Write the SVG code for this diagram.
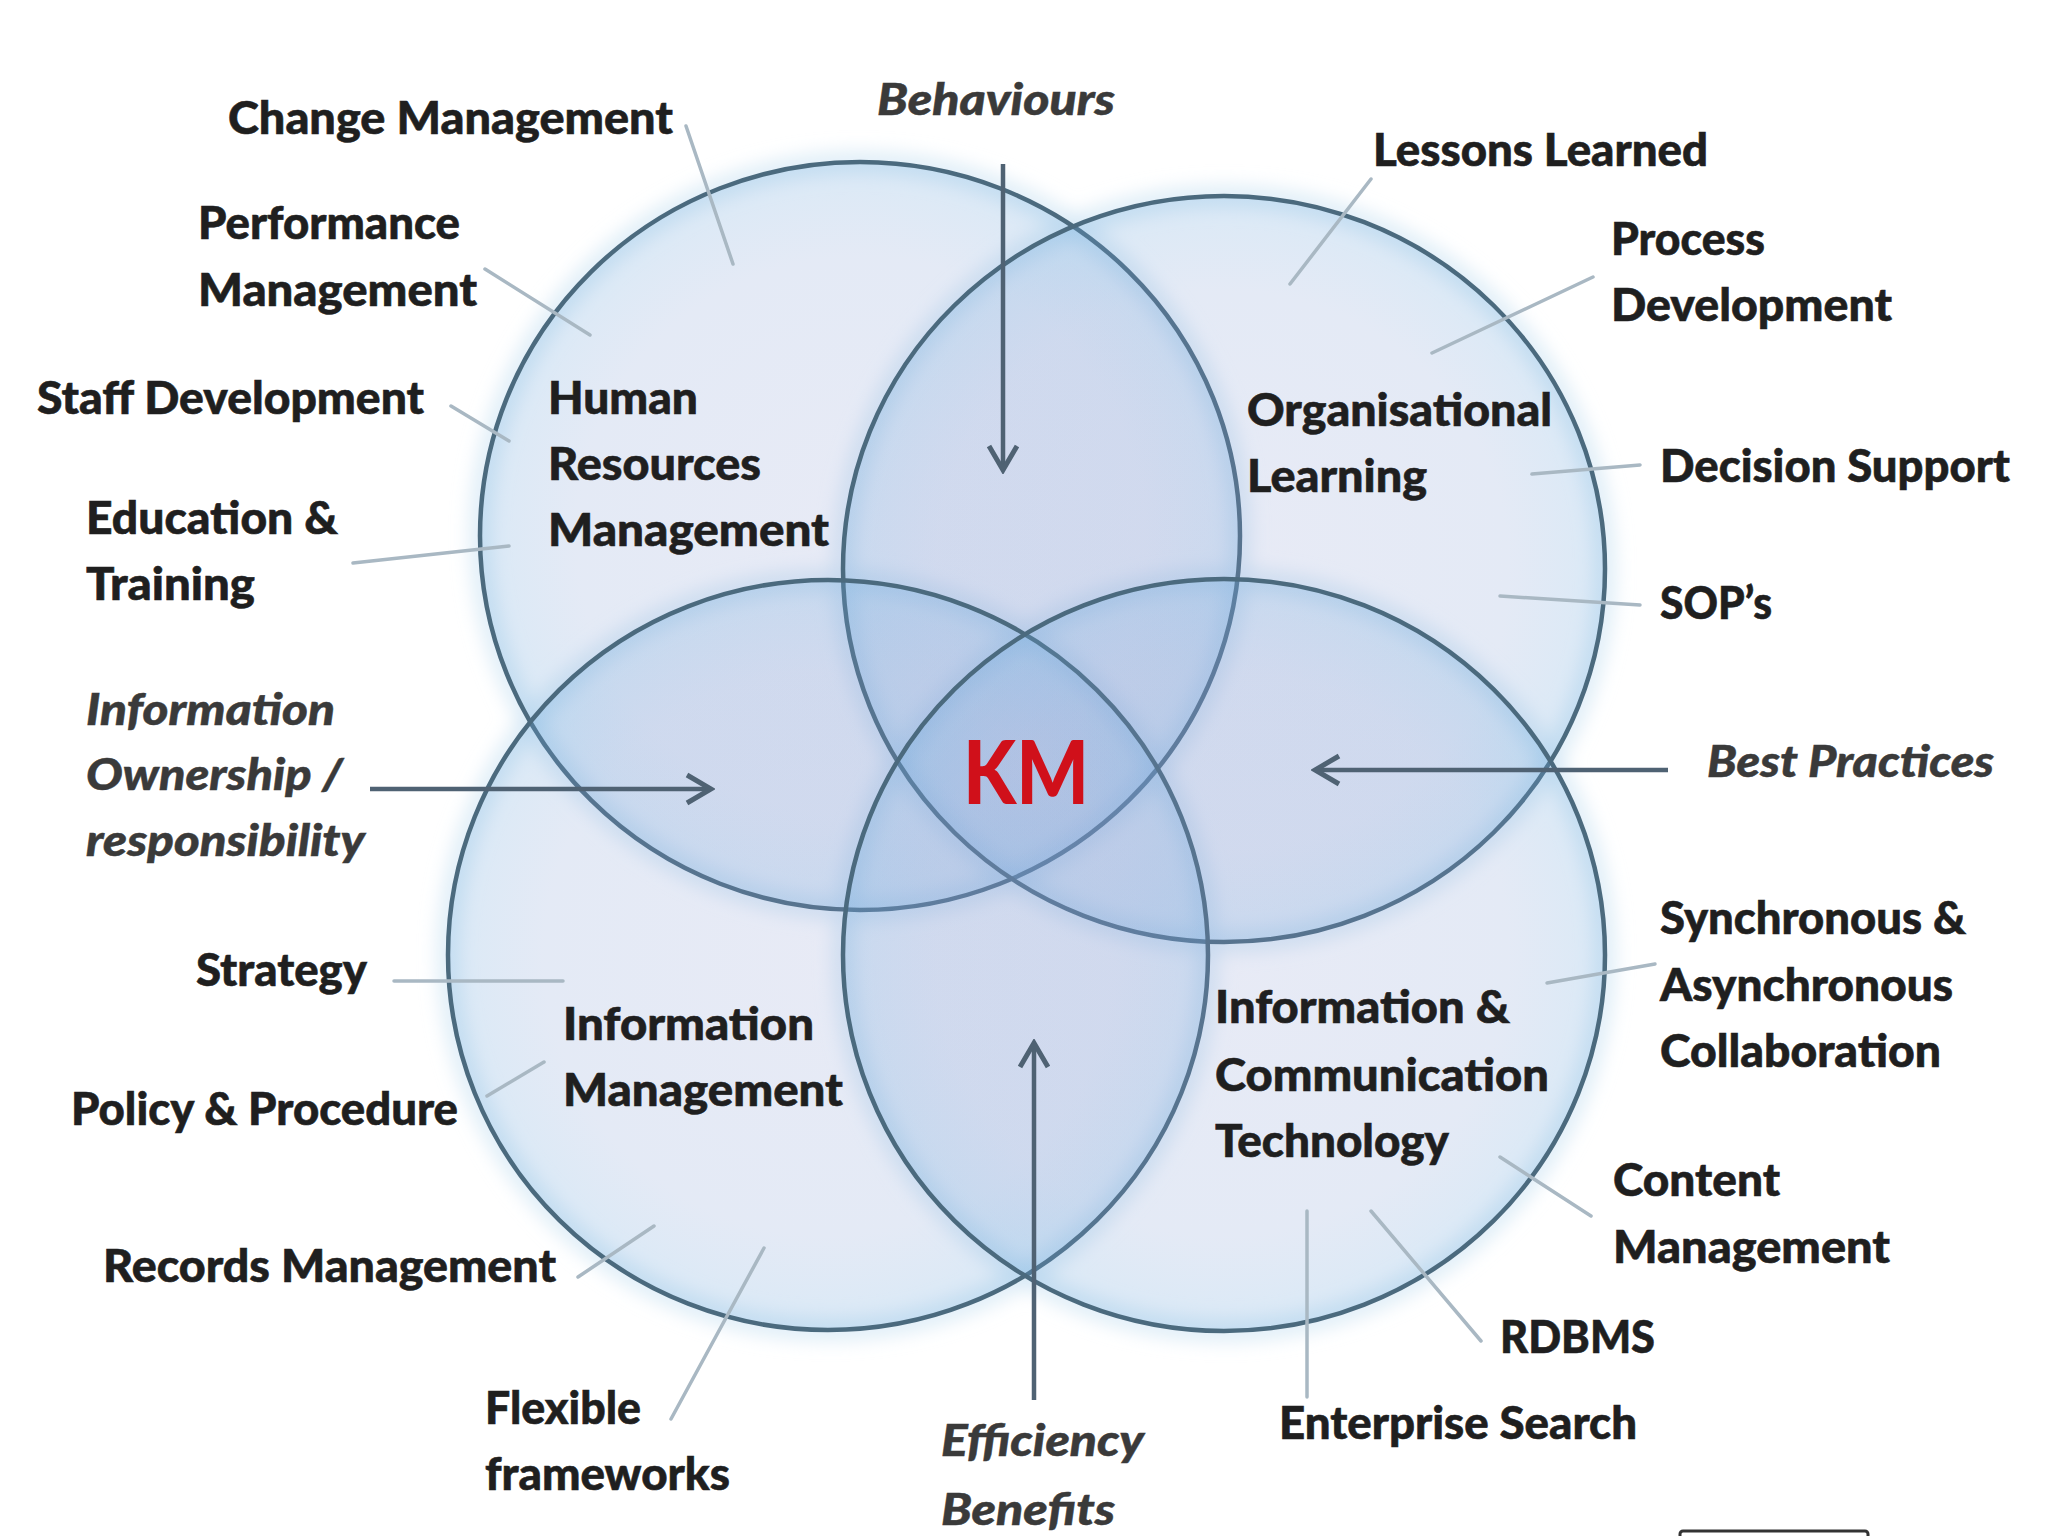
<svg xmlns="http://www.w3.org/2000/svg" width="2048" height="1536" viewBox="0 0 2048 1536">
<defs>
<style>
.t{font-family:Lato,"Open Sans","Liberation Sans",sans-serif;font-weight:900;font-size:45px;fill:#1f1f1f;stroke:#1f1f1f;stroke-width:0.6}
.i{font-family:Lato,"Open Sans","Liberation Sans",sans-serif;font-weight:900;font-style:italic;font-size:44px;fill:#3a3a3a;stroke:#3a3a3a;stroke-width:0.5}
.km{font-family:Lato,"Open Sans","Liberation Sans",sans-serif;font-weight:900;font-size:88px;fill:#d0101a}
.ring{stroke:#4b6a7e;stroke-width:4.5;fill:url(#cg)}
.halo{fill:none;stroke:#d3e7f5;stroke-width:22;opacity:0.7}
.lead{stroke:#a9b8c3;stroke-width:3.5;fill:none;stroke-linecap:round}
.arr{stroke:#4f6273;stroke-width:4.5;fill:none;marker-end:url(#ah)}
</style>
<radialGradient id="cg" cx="0.5" cy="0.5" r="0.5">
<stop offset="0" stop-color="#8a98d0" stop-opacity="0.2"/>
<stop offset="0.75" stop-color="#7e9bd2" stop-opacity="0.21"/>
<stop offset="1" stop-color="#6aa8dc" stop-opacity="0.25"/>
</radialGradient>
<filter id="blur" x="-20%" y="-20%" width="140%" height="140%"><feGaussianBlur stdDeviation="9"/></filter>
<marker id="ah" viewBox="-30 -20 34 40" markerWidth="34" markerHeight="40" refX="0" refY="0" orient="auto" markerUnits="userSpaceOnUse">
<path d="M-24,-14 L0,0 L-24,14" fill="none" stroke="#4f6273" stroke-width="5"/>
</marker>
</defs>
<rect width="2048" height="1536" fill="#ffffff"/>

<g id="halos" filter="url(#blur)">
<ellipse class="halo" cx="860" cy="536" rx="380" ry="374"/>
<ellipse class="halo" cx="1224" cy="569" rx="381" ry="373"/>
<ellipse class="halo" cx="828" cy="955" rx="380" ry="375"/>
<ellipse class="halo" cx="1224" cy="955" rx="381" ry="376"/>
</g>

<g id="node-hr"><ellipse class="ring" cx="860" cy="536" rx="380" ry="374"/></g>
<g id="node-ol"><ellipse class="ring" cx="1224" cy="569" rx="381" ry="373"/></g>
<g id="node-im"><ellipse class="ring" cx="828" cy="955" rx="380" ry="375"/></g>
<g id="node-ict"><ellipse class="ring" cx="1224" cy="955" rx="381" ry="376"/></g>

<g id="labels-circles">
<text class="t" x="548" y="414" textLength="150" lengthAdjust="spacingAndGlyphs">Human</text>
<text class="t" x="548" y="480" textLength="213" lengthAdjust="spacingAndGlyphs">Resources</text>
<text class="t" x="548" y="546" textLength="281" lengthAdjust="spacingAndGlyphs">Management</text>
<text class="t" x="1247" y="426" textLength="305" lengthAdjust="spacingAndGlyphs">Organisational</text>
<text class="t" x="1247" y="492" textLength="180" lengthAdjust="spacingAndGlyphs">Learning</text>
<text class="t" x="563" y="1040" textLength="251" lengthAdjust="spacingAndGlyphs">Information</text>
<text class="t" x="563" y="1106" textLength="280" lengthAdjust="spacingAndGlyphs">Management</text>
<text class="t" x="1215" y="1023" textLength="295" lengthAdjust="spacingAndGlyphs">Information &amp;</text>
<text class="t" x="1215" y="1091" textLength="334" lengthAdjust="spacingAndGlyphs">Communication</text>
<text class="t" x="1215" y="1157" textLength="234" lengthAdjust="spacingAndGlyphs">Technology</text>
</g>

<g id="node-km"><text class="km" x="963" y="804" textLength="126" lengthAdjust="spacingAndGlyphs">KM</text></g>

<g id="connectors">
<line class="lead" x1="686" y1="126" x2="733" y2="264"/>
<line class="lead" x1="485" y1="269" x2="590" y2="335"/>
<line class="lead" x1="451" y1="406" x2="509" y2="441"/>
<line class="lead" x1="353" y1="563" x2="509" y2="546"/>
<line class="lead" x1="1371" y1="179" x2="1290" y2="284"/>
<line class="lead" x1="1593" y1="277" x2="1432" y2="353"/>
<line class="lead" x1="1640" y1="465" x2="1532" y2="474"/>
<line class="lead" x1="1640" y1="605" x2="1500" y2="596"/>
<line class="lead" x1="394" y1="981" x2="563" y2="981"/>
<line class="lead" x1="487" y1="1096" x2="544" y2="1062"/>
<line class="lead" x1="578" y1="1277" x2="654" y2="1226"/>
<line class="lead" x1="671" y1="1419" x2="764" y2="1248"/>
<line class="lead" x1="1655" y1="964" x2="1547" y2="983"/>
<line class="lead" x1="1591" y1="1216" x2="1500" y2="1157"/>
<line class="lead" x1="1481" y1="1341" x2="1371" y2="1211"/>
<line class="lead" x1="1307" y1="1397" x2="1307" y2="1211"/>
<line class="arr" x1="1003" y1="164" x2="1003" y2="470"/>
<line class="arr" x1="370" y1="789" x2="711" y2="789"/>
<line class="arr" x1="1668" y1="770" x2="1315" y2="770"/>
<line class="arr" x1="1034" y1="1400" x2="1034" y2="1043"/>
</g>

<g id="labels-outer">
<text class="t" x="228" y="134" textLength="445" lengthAdjust="spacingAndGlyphs">Change Management</text>
<text class="t" x="198" y="239" textLength="262" lengthAdjust="spacingAndGlyphs">Performance</text>
<text class="t" x="198" y="306" textLength="279" lengthAdjust="spacingAndGlyphs">Management</text>
<text class="t" x="37" y="414" textLength="387" lengthAdjust="spacingAndGlyphs">Staff Development</text>
<text class="t" x="86" y="534" textLength="252" lengthAdjust="spacingAndGlyphs">Education &amp;</text>
<text class="t" x="86" y="600" textLength="169" lengthAdjust="spacingAndGlyphs">Training</text>
<text class="t" x="1373" y="166" textLength="335" lengthAdjust="spacingAndGlyphs">Lessons Learned</text>
<text class="t" x="1611" y="255" textLength="154" lengthAdjust="spacingAndGlyphs">Process</text>
<text class="t" x="1611" y="321" textLength="281" lengthAdjust="spacingAndGlyphs">Development</text>
<text class="t" x="1660" y="482" textLength="350" lengthAdjust="spacingAndGlyphs">Decision Support</text>
<text class="t" x="1660" y="619" textLength="112" lengthAdjust="spacingAndGlyphs">SOP’s</text>
<text class="t" x="196" y="986" textLength="171" lengthAdjust="spacingAndGlyphs">Strategy</text>
<text class="t" x="71" y="1125" textLength="387" lengthAdjust="spacingAndGlyphs">Policy &amp; Procedure</text>
<text class="t" x="103" y="1282" textLength="453" lengthAdjust="spacingAndGlyphs">Records Management</text>
<text class="t" x="485" y="1424" textLength="156" lengthAdjust="spacingAndGlyphs">Flexible</text>
<text class="t" x="485" y="1490" textLength="245" lengthAdjust="spacingAndGlyphs">frameworks</text>
<text class="t" x="1660" y="934" textLength="306" lengthAdjust="spacingAndGlyphs">Synchronous &amp;</text>
<text class="t" x="1660" y="1001" textLength="293" lengthAdjust="spacingAndGlyphs">Asynchronous</text>
<text class="t" x="1660" y="1067" textLength="281" lengthAdjust="spacingAndGlyphs">Collaboration</text>
<text class="t" x="1613" y="1196" textLength="167" lengthAdjust="spacingAndGlyphs">Content</text>
<text class="t" x="1613" y="1263" textLength="277" lengthAdjust="spacingAndGlyphs">Management</text>
<text class="t" x="1500" y="1353" textLength="155" lengthAdjust="spacingAndGlyphs">RDBMS</text>
<text class="t" x="1279" y="1439" textLength="358" lengthAdjust="spacingAndGlyphs">Enterprise Search</text>
<text class="i" x="877" y="115" textLength="238" lengthAdjust="spacingAndGlyphs">Behaviours</text>
<text class="i" x="86" y="725" textLength="249" lengthAdjust="spacingAndGlyphs">Information</text>
<text class="i" x="86" y="790" textLength="257" lengthAdjust="spacingAndGlyphs">Ownership /</text>
<text class="i" x="86" y="856" textLength="279" lengthAdjust="spacingAndGlyphs">responsibility</text>
<text class="i" x="1707" y="777" textLength="287" lengthAdjust="spacingAndGlyphs">Best Practices</text>
<text class="i" x="941" y="1456" textLength="203" lengthAdjust="spacingAndGlyphs">Efficiency</text>
<text class="i" x="941" y="1525" textLength="174" lengthAdjust="spacingAndGlyphs">Benefits</text>
</g>

<rect x="1680" y="1531" width="188" height="20" rx="3" fill="#ffffff" stroke="#333333" stroke-width="3"/>
</svg>
